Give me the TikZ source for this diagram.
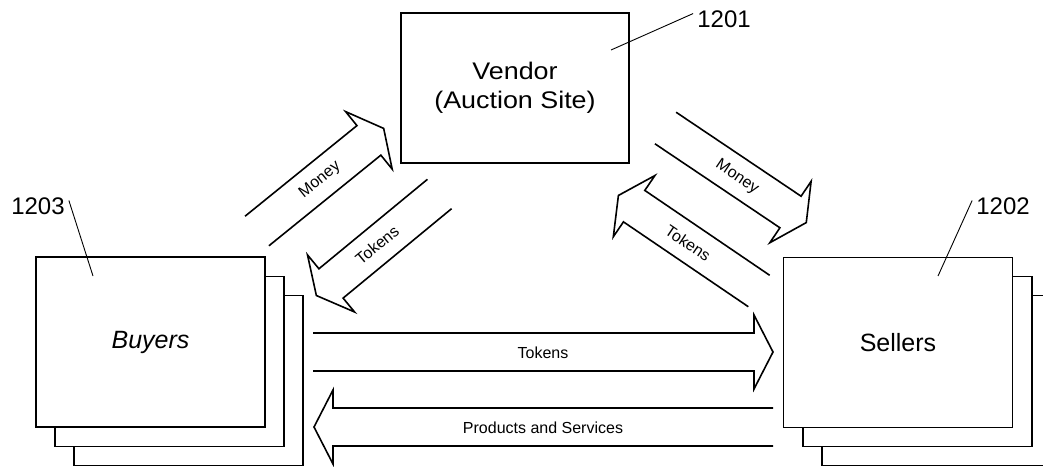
\documentclass[tikz,border=0pt]{standalone}
\usepackage{fontspec}
\setmainfont{Liberation Sans}
\newfontfamily\widesans[FakeStretch=1.12]{Liberation Sans}

\tikzset{
  card/.style={draw, fill=white, line width=1.6pt, minimum width=229pt, minimum height=170pt, font=\fontsize{25}{30}\selectfont},
  vendorbox/.style={draw, line width=1.6pt, minimum width=228pt, minimum height=150pt, align=center, font=\widesans\fontsize{24}{29}\selectfont},
  flow/.style={line width=1.6pt},
  flowlabel/.style={font=\fontsize{16}{19}\selectfont, inner sep=0pt},
  refnum/.style={font=\fontsize{24}{29}\selectfont, inner sep=4pt},
  leader/.style={line width=0.9pt}
}

% Blockpfeil: Ende, Winkel, Schaftlaenge
\newcommand{\flowarrow}[3]{%
  \begin{scope}[shift={#1}, rotate=#2]
    \draw[flow] (0,-19) -- ++(#3,0) -- ++(0,-18) -- (#3+19,0) -- (#3,37) -- ++(0,-18) -- (0,19);
  \end{scope}}

\begin{document}
\begin{tikzpicture}[x=1pt, y=-1pt]
  \useasboundingbox (0,0) rectangle (1043,466);
  \clip (0,0) rectangle (1043,466);

  \node[vendorbox] (vendor) at (515,88) {Vendor\\(Auction Site)};

  \node[card] (buyers3) at (188.5,380.5) {};
  \node[card] (buyers2) at (169.5,361.5) {};
  \node[card] (buyers) at (150.5,342) {\itshape Buyers};

  \node[card] (sellers3) at (936.5,380.5) {};
  \node[card] (sellers2) at (917.5,361.5) {};
  \node[card] (sellers) at (898,342.5) {Sellers};

  % Bezugszeichen
  \node[refnum] (n1201) at (724,19) {1201};
  \node[refnum] (n1202) at (1003,206) {1202};
  \node[refnum] (n1203) at (38,206) {1203};
  \coordinate (p1201) at (611,50);
  \coordinate (p1202) at (938,276);
  \coordinate (p1203) at (93,276);
  \draw[leader] (n1201.170) -- (p1201);
  \draw[leader] (n1202.170) -- (p1202);
  \draw[leader] (n1203.10) -- (p1203);

  % Pfeile
  \flowarrow{(257,231)}{39}{144}
  \flowarrow{(439.5,194)}{219.5}{140.6}
  \flowarrow{(665.5,128)}{-33.9}{150.6}
  \flowarrow{(759,291)}{145.8}{151}
  \flowarrow{(313,352)}{0}{441}
  \flowarrow{(773,427)}{180}{440}

  \node[flowlabel, rotate=39] (money1) at (320,180) {Money};
  \node[flowlabel, rotate=39.5] (tokens1) at (377,245) {Tokens};
  \node[flowlabel, rotate=-34] (money2) at (737,177) {Money};
  \node[flowlabel, rotate=-34] (tokens2) at (688,243) {Tokens};
  \node[flowlabel] (tokens3) at (543,353) {Tokens};
  \node[flowlabel] (products) at (543,428) {Products and Services};

\end{tikzpicture}
\end{document}
